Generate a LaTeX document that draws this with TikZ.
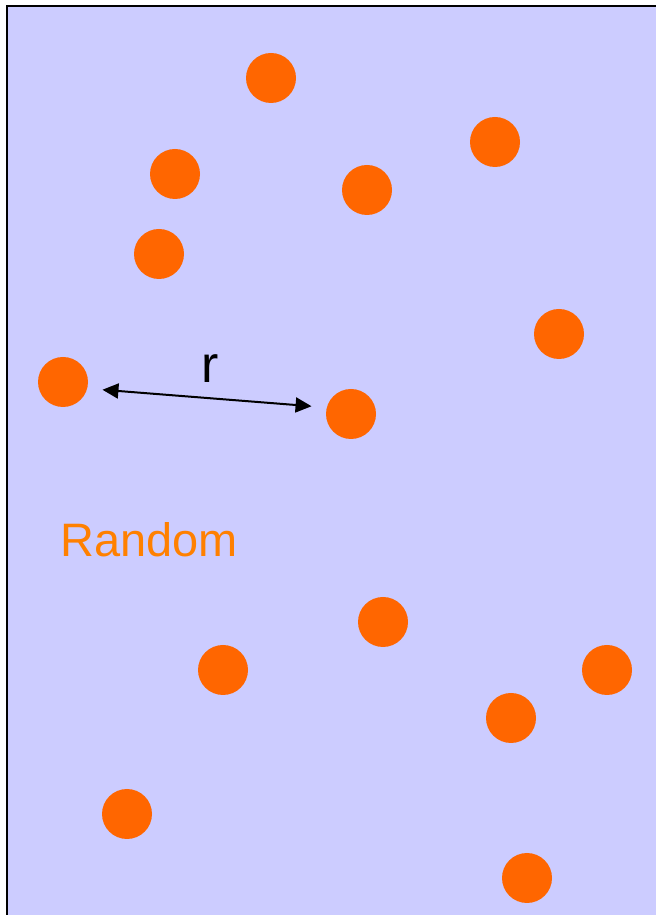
\documentclass[tikz,border=0pt]{standalone}
\usepackage{fontspec}
\setmainfont{Liberation Sans}
\usepackage{xcolor}
\usetikzlibrary{arrows.meta}
\definecolor{RDField}{HTML}{CCCCFF}
\definecolor{RDDot}{HTML}{FF6600}
\definecolor{RDText}{HTML}{FF8000}

\begin{document}
\begin{tikzpicture}[x=1cm,y=1cm,
  dot/.style={circle,fill=RDDot,inner sep=0pt,minimum size=1.0cm}]
\path[use as bounding box] (0,0) rectangle (13.12,18.30);
\fill[RDField] (0.14,0) rectangle (13.12,18.18);
\draw[line width=0.04cm] (0.14,0) -- (0.14,18.18) -- (13.12,18.18);
\node[dot] (d1) at (5.42,16.74) {};
\node[dot] (d2) at (9.90,15.46) {};
\node[dot] (d3) at (3.50,14.82) {};
\node[dot] (d4) at (7.34,14.50) {};
\node[dot] (d5) at (3.18,13.22) {};
\node[dot] (d6) at (11.18,11.62) {};
\node[dot] (d7) at (1.26,10.66) {};
\node[dot] (d8) at (7.02,10.02) {};
\node[dot] (d9) at (7.66,5.86) {};
\node[dot] (d10) at (4.46,4.90) {};
\node[dot] (d11) at (12.14,4.90) {};
\node[dot] (d12) at (10.22,3.94) {};
\node[dot] (d13) at (2.54,2.02) {};
\node[dot] (d14) at (10.54,0.74) {};
\draw[{Triangle[length=0.32cm,width=0.30cm]}-{Triangle[length=0.32cm,width=0.30cm]},line width=0.04cm,
  shorten <=0.30cm,shorten >=0.30cm] (d7.-15) -- (d8.165);
\node[inner sep=0pt] (rlabel) at (4.20,10.93) {\fontsize{29.5}{34}\selectfont r};
\node[anchor=base west,inner sep=0pt,text=RDText] (random) at (1.20,7.16) {\fontsize{26.7}{32}\selectfont Random};
\end{tikzpicture}
\end{document}
